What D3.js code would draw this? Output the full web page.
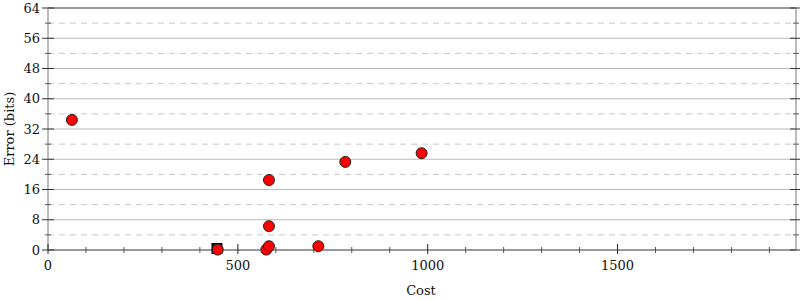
<!DOCTYPE html>
<html lang="en">
<head>
<meta charset="UTF-8">
<script src="https://d3js.org/d3.v7.min.js"></script>
<style>
    body { margin: 0; background: #fff; }
    text { font-family: "DejaVu Serif", serif; font-size: 13px; fill: #111; }
</style>
</head>
<body>
<script>
    const width = 800;
    const height = 300;

    // data
    const costs = [63, 447, 575, 582, 582, 582, 712, 783, 984];
    const errors = [34.4, 0.1, 0.1, 1.0, 6.3, 18.5, 1.0, 23.3, 25.6];
    const best = {cost: 445, error: 0.4};

    const yMajor = [0, 8, 16, 24, 32, 40, 48, 56, 64];
    const yMinor = [4, 12, 20, 28, 36, 44, 52, 60];
    const xMajor = [0, 500, 1000, 1500];
    const xMinor = d3.range(100, 2000, 100).filter(v => v % 500 !== 0);

    const x = d3.scaleLinear().domain([0, 1970]).range([48, 796]);
    const y = d3.scaleLinear().domain([0, 64]).range([250, 8]);

    const svg = d3.select('body').append('svg')
        .attr('width', width)
        .attr('height', height);

    // grid
    svg.selectAll('.grid').data(yMajor.slice(1, -1)).enter().append('line')
        .attr('x1', x(0)).attr('x2', x.range()[1])
        .attr('y1', d => y(d)).attr('y2', d => y(d))
        .attr('stroke', '#bbb').attr('stroke-width', 1);
    svg.selectAll('.gridm').data(yMinor).enter().append('line')
        .attr('x1', x(0)).attr('x2', x.range()[1])
        .attr('y1', d => y(d)).attr('y2', d => y(d))
        .attr('stroke', '#c8c8c8').attr('stroke-width', 1)
        .attr('stroke-dasharray', '6,5');

    // frame
    svg.append('line').attr('x1', x(0)).attr('x2', x.range()[1])
        .attr('y1', y(64)).attr('y2', y(64))
        .attr('stroke', '#999').attr('stroke-width', 2);
    svg.append('line').attr('x1', x(0)).attr('x2', x.range()[1])
        .attr('y1', y(0)).attr('y2', y(0))
        .attr('stroke', '#999').attr('stroke-width', 2);
    [x(0), x.range()[1]].forEach(px => {
        svg.append('line').attr('x1', px).attr('x2', px)
            .attr('y1', y(64)).attr('y2', y(0))
            .attr('stroke', '#bbb').attr('stroke-width', 2);
    });

    // y ticks, both sides
    [x(0), x.range()[1]].forEach(px => {
        svg.selectAll(null).data(yMajor).enter().append('line')
            .attr('x1', px - 6).attr('x2', px + 6)
            .attr('y1', d => y(d)).attr('y2', d => y(d))
            .attr('stroke', '#333').attr('stroke-width', 1);
        svg.selectAll(null).data(yMinor).enter().append('line')
            .attr('x1', px - 3).attr('x2', px + 3)
            .attr('y1', d => y(d)).attr('y2', d => y(d))
            .attr('stroke', '#555').attr('stroke-width', 1);
    });
    svg.selectAll('.ylab').data(yMajor).enter().append('text')
        .attr('x', 40).attr('y', d => y(d)).attr('dy', '0.35em')
        .attr('text-anchor', 'end').text(d => d);

    // x ticks
    svg.selectAll('.xt').data(xMajor).enter().append('line')
        .attr('x1', d => x(d)).attr('x2', d => x(d))
        .attr('y1', y(0) - 6).attr('y2', y(0) + 4)
        .attr('stroke', '#222').attr('stroke-width', 1);
    svg.selectAll('.xm').data(xMinor).enter().append('line')
        .attr('x1', d => x(d)).attr('x2', d => x(d))
        .attr('y1', y(0) - 3).attr('y2', y(0) + 3)
        .attr('stroke', '#555').attr('stroke-width', 1);
    svg.selectAll('.xlab').data(xMajor).enter().append('text')
        .attr('x', d => x(d)).attr('y', 270)
        .attr('text-anchor', 'middle').text(d => d);

    svg.append('text').attr('x', 421).attr('y', 295)
        .attr('text-anchor', 'middle').text('Cost');
    svg.append('text')
        .attr('transform', 'translate(14,129) rotate(-90)')
        .attr('text-anchor', 'middle').text('Error (bits)');

    // best point
    svg.append('rect')
        .attr('x', x(best.cost) - 5).attr('y', y(best.error) - 5)
        .attr('width', 10).attr('height', 10)
        .attr('fill', '#111').attr('stroke', '#000');

    svg.selectAll('.pt').data(costs).enter().append('circle')
        .attr('cx', d => x(d))
        .attr('cy', (d, i) => y(errors[i]))
        .attr('r', 5.5)
        .attr('fill', '#f00')
        .attr('stroke', '#222').attr('stroke-width', 1);
</script>
</body>
</html>
